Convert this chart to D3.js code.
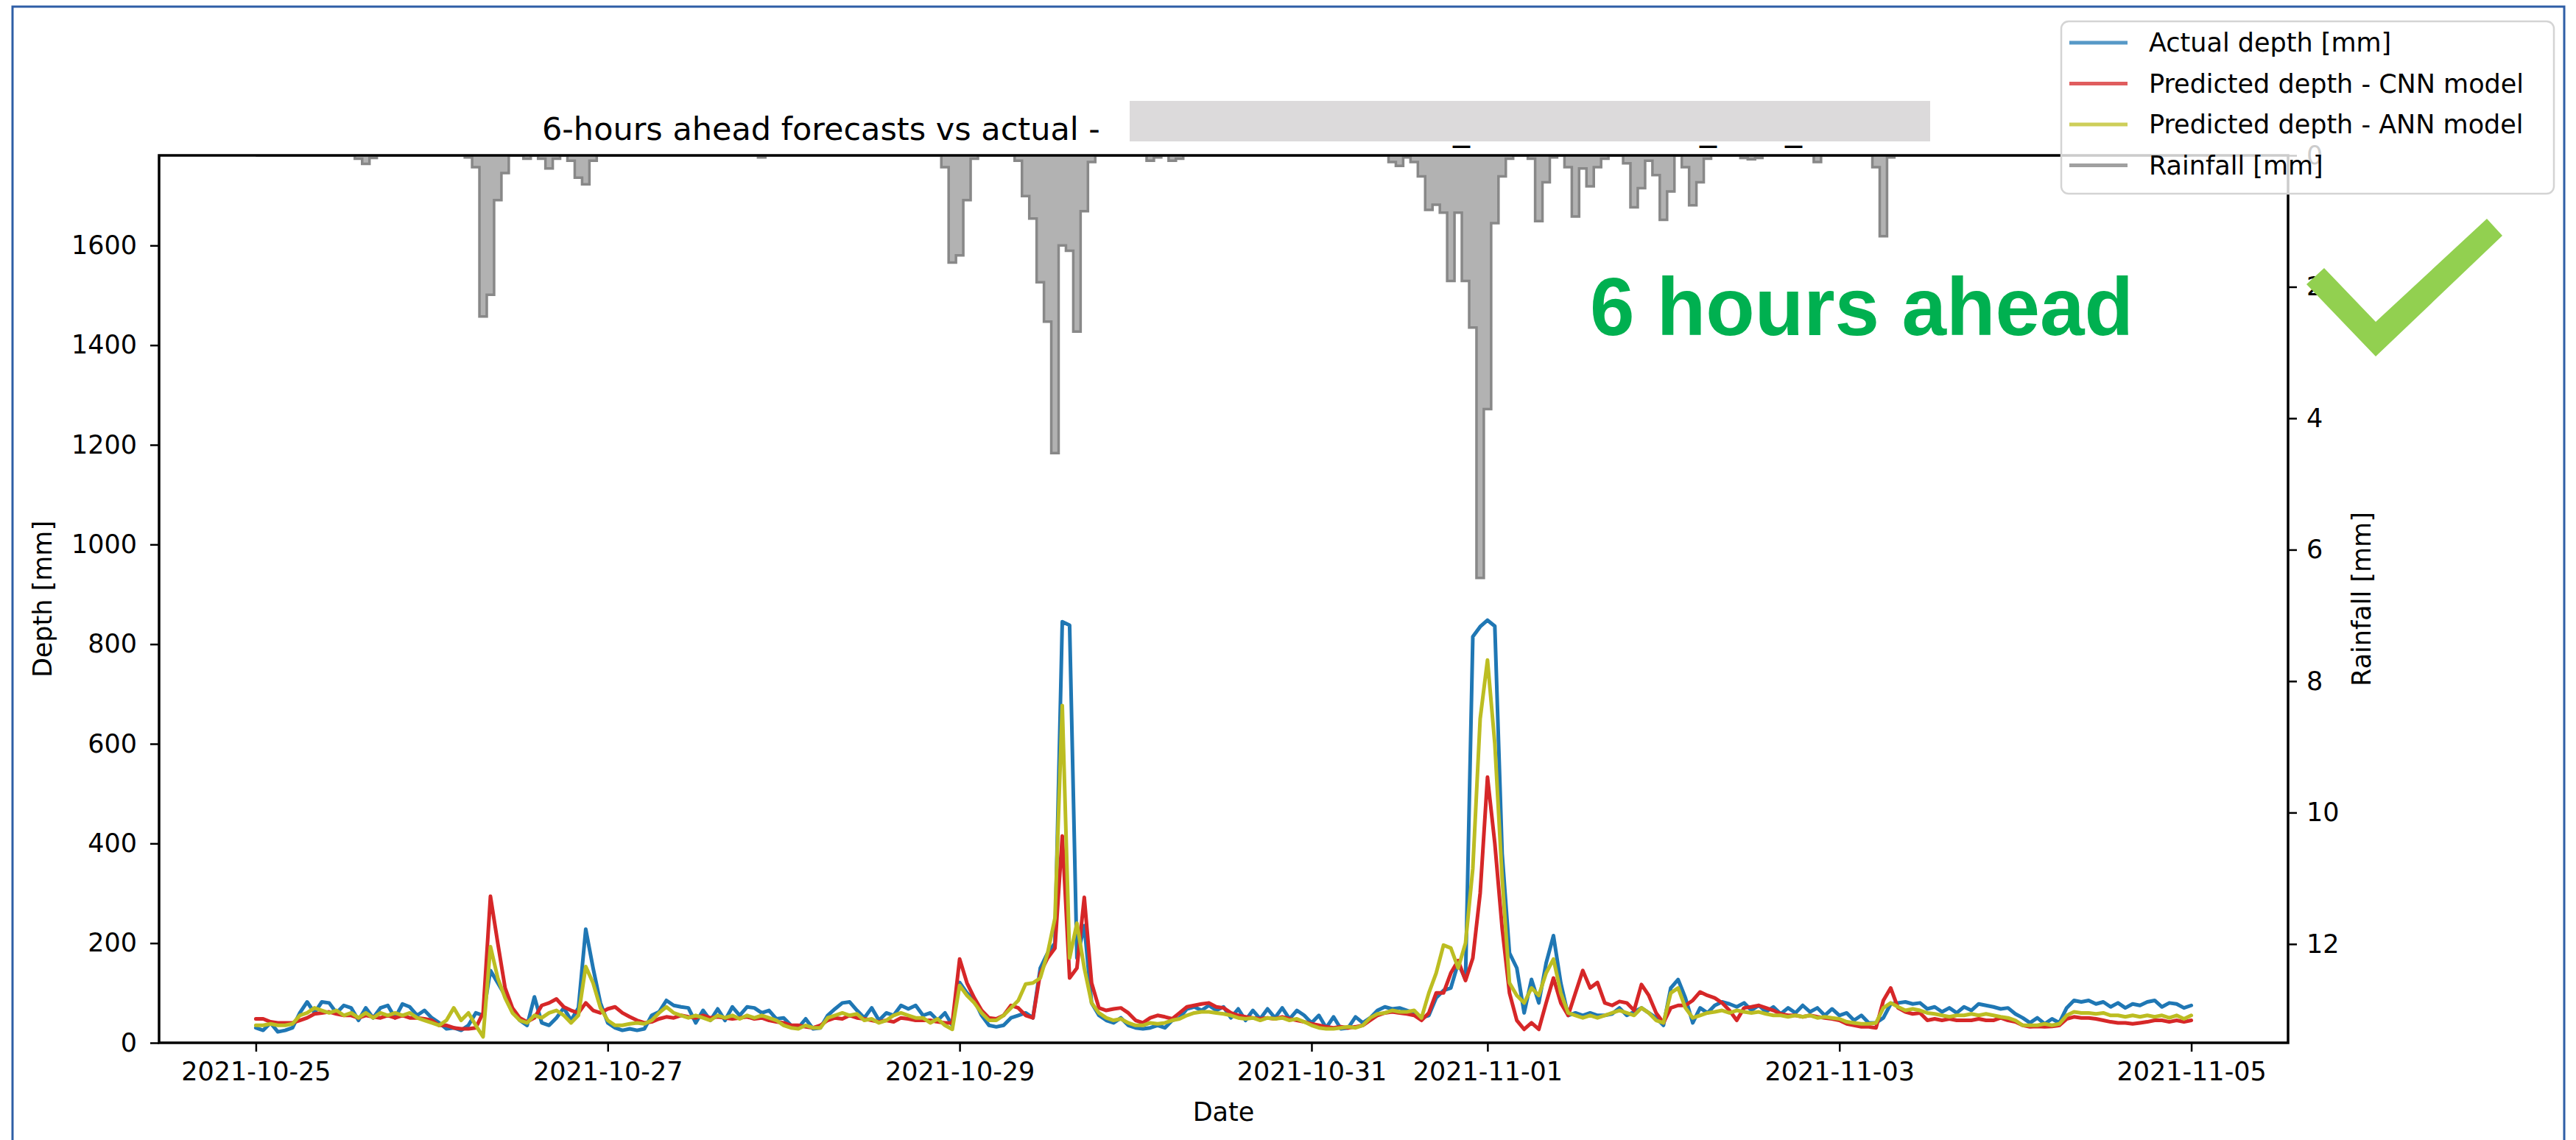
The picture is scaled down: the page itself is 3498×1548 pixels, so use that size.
<!DOCTYPE html>
<html>
<head>
<meta charset="utf-8">
<script src="https://cdn.jsdelivr.net/npm/d3@7"></script>
<style>
  html, body { margin: 0; padding: 0; background: #fff; }
  svg { display: block; font-family: "DejaVu Sans", sans-serif; }
</style>
</head>
<body>
<svg id="chart" width="3498" height="1548"></svg>
<script>
// ---- data: hourly series starting 2021-10-25 00:00 ----
const seriesStart = "2021-10-25T00:00:00Z";

const depthTicks = [0, 200, 400, 600, 800, 1000, 1200, 1400, 1600];
const rainTicks = [0, 2, 4, 6, 8, 10, 12];
const dateTicks = ["2021-10-25", "2021-10-27", "2021-10-29", "2021-10-31", "2021-11-01", "2021-11-03", "2021-11-05"];

const legendLabels = ["Actual depth [mm]", "Predicted depth - CNN model", "Predicted depth - ANN model", "Rainfall [mm]"];

const actualDepth = [
  30,25,40,22,25,30,60,82,60,82,80,60,
  75,70,45,70,50,70,75,50,78,72,55,65,
  50,40,28,30,25,35,60,55,145,120,95,65,
  45,35,92,40,35,50,70,45,70,228,150,80,
  40,30,25,28,25,28,55,62,85,75,72,70,
  40,65,45,68,45,72,55,72,70,60,65,48,
  50,35,30,48,28,30,55,68,80,82,65,50,
  70,45,60,55,75,68,75,55,60,45,60,35,
  121,100,85,55,35,32,35,50,55,60,50,150,
  180,200,845,838,170,235,80,55,45,40,50,35,
  30,28,30,35,30,45,50,68,72,65,75,65,
  72,50,68,45,65,48,68,50,70,48,65,55,
  40,55,30,52,28,30,52,40,50,65,72,68,
  70,65,60,50,55,90,105,110,160,127,815,835,
  848,836,380,180,150,60,127,80,160,215,120,55,
  60,55,60,55,55,58,70,55,62,70,60,50,
  35,110,127,90,40,70,60,75,82,78,72,80,
  65,75,62,72,58,70,60,75,62,70,55,68,
  55,60,45,55,40,40,50,78,80,82,78,80,
  68,72,62,70,60,72,65,78,75,72,68,70,
  58,50,40,50,38,48,40,70,85,82,85,78,
  82,72,80,70,78,75,82,85,72,80,78,70,
  75
];

const cnnDepth = [
  48,48,42,40,40,40,45,50,58,60,62,58,
  55,55,50,55,52,50,55,50,55,50,50,48,
  45,35,35,30,28,28,30,60,294,200,110,70,
  50,42,50,75,80,88,72,65,60,80,65,60,
  68,72,60,52,45,40,42,48,52,50,55,52,
  50,55,50,52,50,48,50,52,48,50,45,42,
  40,35,35,32,30,35,45,50,48,55,50,48,
  45,42,45,42,50,48,45,45,45,42,40,40,
  168,120,90,65,50,48,55,75,70,55,50,140,
  170,190,415,130,150,292,120,70,65,68,70,60,
  45,40,50,55,52,48,60,72,75,78,80,72,
  70,60,55,52,50,48,50,48,52,48,45,42,
  38,35,32,30,32,30,32,35,45,55,60,62,
  60,58,55,45,60,100,100,140,165,125,170,300,
  533,400,230,100,45,27,40,27,80,130,80,55,
  100,145,110,121,80,75,83,80,65,117,95,60,
  40,70,75,75,85,102,95,90,80,65,45,70,
  72,75,70,65,58,55,55,52,55,52,50,48,
  45,38,35,32,32,30,85,110,70,62,58,60,
  45,48,45,48,45,45,45,48,45,45,50,45,
  42,35,32,33,32,33,35,48,52,50,50,48,
  45,42,40,40,38,40,42,45,45,42,45,42,
  45
];

const annDepth = [
  35,35,38,35,35,38,55,60,70,65,60,65,
  55,60,50,60,50,60,55,60,55,60,50,45,
  40,35,45,70,45,60,35,12,193,130,90,60,
  45,40,55,50,60,65,55,40,55,153,120,70,
  45,35,35,38,40,38,45,60,72,60,55,50,
  55,50,45,55,50,55,48,55,50,55,50,45,
  35,30,28,35,30,30,50,55,60,55,58,45,
  48,40,45,55,60,55,50,50,40,48,35,27,
  115,95,80,60,45,45,55,70,85,118,120,130,
  180,250,677,170,240,150,80,60,50,45,48,40,
  35,35,40,38,40,45,48,55,60,62,62,60,
  58,55,50,48,50,45,50,48,50,45,48,42,
  35,30,28,28,30,32,30,35,50,58,60,65,
  62,62,65,50,100,140,196,190,150,200,350,650,
  768,600,330,120,95,80,110,95,140,168,100,60,
  55,50,55,50,55,60,65,60,55,70,60,45,
  40,100,110,70,50,55,60,62,65,60,65,62,
  60,62,58,55,55,52,55,52,55,50,52,50,
  48,42,40,38,38,40,70,80,72,65,68,65,
  60,58,55,52,55,55,58,55,58,55,52,50,
  45,35,35,35,38,35,38,55,62,60,60,58,
  60,55,55,52,55,52,55,52,55,50,55,48,
  55
];

const rainfall = [
  0,0,0,0,0,0,0,0,0,0,0,0,0,0,0.05,0.13,0.04,0,0,0,0,0,0,0,
  0,0,0,0,0,0.03,0.18,2.45,2.12,0.68,0.27,0,0,0.05,0,0.05,0.2,0.05,0,0.08,0.34,0.44,0.08,0,
  0,0,0,0,0,0,0,0,0,0,0,0,0,0,0,0,0,0,0,0,0,0.03,0,0,
  0,0,0,0,0,0,0,0,0,0,0,0,0,0,0,0,0,0,0,0,0,0,0.18,1.63,
  1.52,0.68,0.05,0,0,0,0,0,0.08,0.62,0.96,1.93,2.53,4.53,1.37,1.45,2.68,0.85,0.1,0,0,0,0,0,
  0,0,0.08,0.03,0,0.08,0.05,0,0,0,0,0,0,0,0,0,0,0,0,0,0,0,0,0,
  0,0,0,0,0,0,0,0,0,0,0,0.1,0.16,0.03,0.1,0.32,0.83,0.75,0.87,1.91,0.87,1.91,2.62,6.43,
  3.86,1.03,0.32,0.05,0,0,0.05,1.0,0.41,0.03,0,0.18,0.93,0.2,0.47,0.18,0.05,0,0,0.12,0.79,0.5,0.08,0.3,
  0.98,0.55,0,0.18,0.76,0.41,0.05,0,0,0,0,0.04,0.06,0.04,0,0,0,0,0,0,0,0.1,0,0,
  0,0,0,0,0,0.18,1.23,0.03,0,0,0,0,0,0,0,0,0,0,0,0,0,0,0,0,
  0,0,0,0,0,0,0,0,0,0,0,0,0,0,0,0,0,0,0,0,0,0,0,0,
  0
];

// ---- layout ----
const svg = d3.select("#chart");
const plot = { left: 216, right: 3107, top: 211, bottom: 1416 };
const FONT = "DejaVu Sans, sans-serif";
const colors = { actual: "#1f77b4", cnn: "#d62728", ann: "#bcbd22", rain: "#808080" };

const hourMs = 3600 * 1000;
const t0 = new Date(seriesStart).getTime();
const times = actualDepth.map((_, i) => new Date(t0 + i * hourMs));
const tEnd = times[times.length - 1].getTime();
const margin = (tEnd - t0) * 0.05;

const x = d3.scaleUtc()
  .domain([new Date(t0 - margin), new Date(tEnd + margin)])
  .range([plot.left, plot.right]);
const yDepth = d3.scaleLinear()
  .domain([0, d3.max(actualDepth) * 2.1])
  .range([plot.bottom, plot.top]);
const yRain = d3.scaleLinear()
  .domain([0, d3.max(rainfall) * 2.1])
  .range([plot.top, plot.bottom]);

// outer frame
svg.append("rect")
  .attr("x", 17).attr("y", 9).attr("width", 3465).attr("height", 1600)
  .attr("fill", "none").attr("stroke", "#2e5ea6").attr("stroke-width", 3);

// title (with the redaction block and the underscores that peek out beneath it)
svg.append("text")
  .attr("x", 736).attr("y", 190)
  .attr("font-family", FONT).attr("font-size", 43).attr("fill", "#000")
  .text("6-hours ahead forecasts vs actual -");
svg.append("rect")
  .attr("x", 1534).attr("y", 137).attr("width", 1087).attr("height", 55)
  .attr("fill", "#dcdadb");
[1973, 2308, 2424].forEach(px => {
  svg.append("text")
    .attr("x", px).attr("y", 190)
    .attr("font-family", FONT).attr("font-size", 46).attr("fill", "#000")
    .text("_");
});

// clip for plotted data
svg.append("defs").append("clipPath").attr("id", "plotClip")
  .append("rect")
  .attr("x", plot.left).attr("y", plot.top)
  .attr("width", plot.right - plot.left).attr("height", plot.bottom - plot.top);

const dataLayer = svg.append("g").attr("clip-path", "url(#plotClip)");

// depth series
const depthLine = d3.line()
  .x((d, i) => x(times[i]))
  .y(d => yDepth(d));

[[actualDepth, colors.actual], [cnnDepth, colors.cnn], [annDepth, colors.ann]].forEach(([vals, col]) => {
  dataLayer.append("path")
    .datum(vals)
    .attr("d", depthLine)
    .attr("fill", "none")
    .attr("stroke", col)
    .attr("stroke-width", 5)
    .attr("stroke-linejoin", "round")
    .attr("stroke-linecap", "round");
});

// rainfall, hanging from the top on the inverted right axis
const rainArea = d3.area()
  .x((d, i) => x(times[i]))
  .y0(yRain(0))
  .y1(d => yRain(d))
  .curve(d3.curveStep);
const rainLine = d3.line()
  .x((d, i) => x(times[i]))
  .y(d => yRain(d))
  .curve(d3.curveStep);

dataLayer.append("path")
  .datum(rainfall)
  .attr("d", rainArea)
  .attr("fill", "#b2b2b2");
dataLayer.append("path")
  .datum(rainfall)
  .attr("d", rainLine)
  .attr("fill", "none")
  .attr("stroke", "#888888")
  .attr("stroke-width", 3.5)
  .attr("stroke-linejoin", "miter");

// axes
function styleAxis(g) {
  g.select(".domain").remove();
  g.selectAll(".tick line").attr("stroke", "#000").attr("stroke-width", 2.5);
  g.selectAll(".tick text")
    .attr("font-family", FONT).attr("font-size", 35).attr("fill", "#000");
}

svg.append("g")
  .attr("transform", `translate(${plot.left},0)`)
  .call(d3.axisLeft(yDepth).tickValues(depthTicks).tickFormat(d3.format("d"))
    .tickSize(12).tickPadding(18))
  .call(styleAxis);

svg.append("g")
  .attr("transform", `translate(${plot.right},0)`)
  .call(d3.axisRight(yRain).tickValues(rainTicks).tickFormat(d3.format("d"))
    .tickSize(12).tickPadding(13))
  .call(styleAxis);

svg.append("g")
  .attr("transform", `translate(0,${plot.bottom})`)
  .call(d3.axisBottom(x)
    .tickValues(dateTicks.map(s => new Date(s + "T00:00:00Z")))
    .tickFormat(d3.utcFormat("%Y-%m-%d"))
    .tickSize(12).tickPadding(14))
  .call(styleAxis);

// spines
svg.append("rect")
  .attr("x", plot.left).attr("y", plot.top)
  .attr("width", plot.right - plot.left).attr("height", plot.bottom - plot.top)
  .attr("fill", "none").attr("stroke", "#000").attr("stroke-width", 3.5);

// axis titles
svg.append("text")
  .attr("x", (plot.left + plot.right) / 2).attr("y", 1522)
  .attr("text-anchor", "middle")
  .attr("font-family", FONT).attr("font-size", 35).attr("fill", "#000")
  .text("Date");
svg.append("text")
  .attr("transform", `translate(70,${(plot.top + plot.bottom) / 2}) rotate(-90)`)
  .attr("text-anchor", "middle")
  .attr("font-family", FONT).attr("font-size", 35).attr("fill", "#000")
  .text("Depth [mm]");
svg.append("text")
  .attr("transform", `translate(3219,${(plot.top + plot.bottom) / 2}) rotate(-90)`)
  .attr("text-anchor", "middle")
  .attr("font-family", FONT).attr("font-size", 35).attr("fill", "#000")
  .text("Rainfall [mm]");

// legend (semi-transparent box drawn over the axes)
const legend = svg.append("g");
legend.append("rect")
  .attr("x", 2799).attr("y", 29).attr("width", 669).attr("height", 234)
  .attr("rx", 10).attr("ry", 10)
  .attr("fill", "#fff").attr("fill-opacity", 0.8)
  .attr("stroke", "#d4d4d4").attr("stroke-width", 2.5);
const legendColors = [colors.actual, colors.cnn, colors.ann, colors.rain];
legendLabels.forEach((label, i) => {
  const yy = 58 + i * 55.5;
  legend.append("line")
    .attr("x1", 2810).attr("x2", 2889).attr("y1", yy).attr("y2", yy)
    .attr("stroke", legendColors[i]).attr("stroke-opacity", 0.75)
    .attr("stroke-width", 5);
  legend.append("text")
    .attr("x", 2918).attr("y", yy).attr("dy", "0.35em")
    .attr("font-family", FONT).attr("font-size", 35).attr("fill", "#000")
    .text(label);
});

// annotation
svg.append("text")
  .attr("x", 2159).attr("y", 455)
  .attr("font-family", "Liberation Sans, Arial, sans-serif")
  .attr("font-weight", "bold").attr("font-size", 111)
  .attr("textLength", 738).attr("lengthAdjust", "spacingAndGlyphs")
  .attr("fill", "#00b050")
  .text("6 hours ahead");

svg.append("polygon")
  .attr("points", "3132,386 3226,484 3398,320 3377,297 3226,437 3156,364")
  .attr("fill", "#92d050");
</script>
</body>
</html>
